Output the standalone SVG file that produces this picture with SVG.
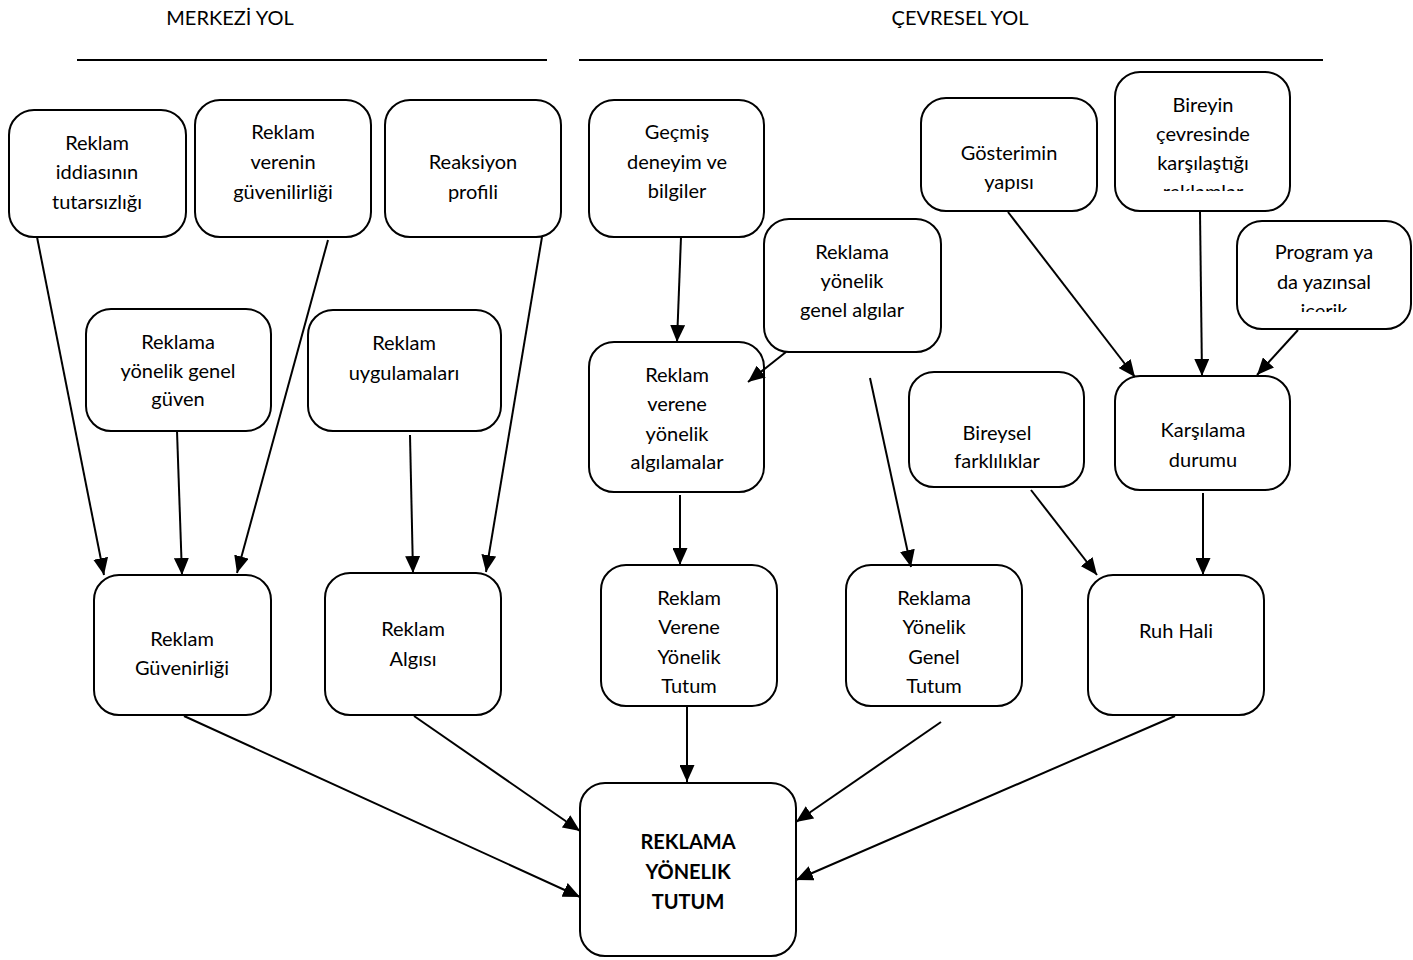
<svg xmlns="http://www.w3.org/2000/svg" width="1413" height="960" viewBox="0 0 1413 960">
<style>
.n rect{fill:#fff;stroke:#000;stroke-width:2}
text{font-family:Lato,"Open Sans",sans-serif;font-size:20px;fill:#000;text-anchor:middle}
.b{font-weight:bold}
.c line{stroke:#000;stroke-width:2;marker-end:url(#ah)}
.h line{stroke:#000;stroke-width:2}
</style>
<defs>
<marker id="ah" viewBox="0 0 10 10" refX="10" refY="5" markerWidth="17" markerHeight="15" markerUnits="userSpaceOnUse" orient="auto" preserveAspectRatio="none"><path d="M0,0 L10,5 L0,10 z" fill="#000"/></marker>
<clipPath id="cl14"><rect x="1115" y="72" width="176" height="119"/></clipPath>
<clipPath id="cl15"><rect x="1237" y="221" width="175" height="91"/></clipPath>
</defs>
<rect width="1413" height="960" fill="#fff"/>
<g class="h">
<text x="230" y="25">MERKEZİ YOL</text>
<text x="960" y="25">ÇEVRESEL YOL</text>
<line x1="77" y1="60" x2="547" y2="60"/>
<line x1="579" y1="60" x2="1323" y2="60"/>
</g>
<g id="n1" class="n"><rect x="9" y="110" width="177" height="127" rx="25"/><text x="97" y="150">Reklam</text><text x="97" y="179">iddiasının</text><text x="97" y="209">tutarsızlığı</text></g>
<g id="n2" class="n"><rect x="195" y="100" width="176" height="137" rx="25"/><text x="283" y="139">Reklam</text><text x="283" y="169">verenin</text><text x="283" y="199">güvenilirliği</text></g>
<g id="n3" class="n"><rect x="385" y="100" width="176" height="137" rx="25"/><text x="473" y="169">Reaksiyon</text><text x="473" y="199">profili</text></g>
<g id="n4" class="n"><rect x="86" y="309" width="185" height="122" rx="25"/><text x="178" y="349">Reklama</text><text x="178" y="378">yönelik genel</text><text x="178" y="406">güven</text></g>
<g id="n5" class="n"><rect x="308" y="310" width="193" height="121" rx="25"/><text x="404" y="350">Reklam</text><text x="404" y="380">uygulamaları</text></g>
<g id="n6" class="n"><rect x="94" y="575" width="177" height="140" rx="25"/><text x="182" y="646">Reklam</text><text x="182" y="675">Güvenirliği</text></g>
<g id="n7" class="n"><rect x="325" y="573" width="176" height="142" rx="25"/><text x="413" y="636">Reklam</text><text x="413" y="666">Algısı</text></g>
<g id="n8" class="n"><rect x="589" y="100" width="175" height="137" rx="25"/><text x="677" y="139">Geçmiş</text><text x="677" y="169">deneyim ve</text><text x="677" y="198">bilgiler</text></g>
<g id="n9" class="n"><rect x="764" y="219" width="177" height="133" rx="25"/><text x="852" y="259">Reklama</text><text x="852" y="288">yönelik</text><text x="852" y="317">genel algılar</text></g>
<g id="n10" class="n"><rect x="589" y="342" width="175" height="150" rx="25"/><text x="677" y="382">Reklam</text><text x="677" y="411">verene</text><text x="677" y="441">yönelik</text><text x="677" y="469">algılamalar</text></g>
<g id="n11" class="n"><rect x="601" y="565" width="176" height="141" rx="25"/><text x="689" y="605">Reklam</text><text x="689" y="634">Verene</text><text x="689" y="664">Yönelik</text><text x="689" y="693">Tutum</text></g>
<g id="n12" class="n"><rect x="846" y="565" width="176" height="141" rx="25"/><text x="934" y="605">Reklama</text><text x="934" y="634">Yönelik</text><text x="934" y="664">Genel</text><text x="934" y="693">Tutum</text></g>
<g id="n13" class="n"><rect x="921" y="98" width="176" height="113" rx="25"/><text x="1009" y="160">Gösterimin</text><text x="1009" y="189">yapısı</text></g>
<g id="n14" class="n"><rect x="1115" y="72" width="175" height="139" rx="25"/><g clip-path="url(#cl14)"><text x="1203" y="112">Bireyin</text><text x="1203" y="141">çevresinde</text><text x="1203" y="170">karşılaştığı</text><text x="1203" y="199">reklamlar</text></g></g>
<g id="n15" class="n"><rect x="1237" y="221" width="174" height="108" rx="25"/><g clip-path="url(#cl15)"><text x="1324" y="259">Program ya</text><text x="1324" y="289">da yazınsal</text><text x="1324" y="318">içerik</text></g></g>
<g id="n16" class="n"><rect x="909" y="372" width="175" height="115" rx="25"/><text x="997" y="440">Bireysel</text><text x="997" y="468">farklılıklar</text></g>
<g id="n17" class="n"><rect x="1115" y="376" width="175" height="114" rx="25"/><text x="1203" y="437">Karşılama</text><text x="1203" y="467">durumu</text></g>
<g id="n18" class="n"><rect x="1088" y="575" width="176" height="140" rx="25"/><text x="1176" y="638">Ruh Hali</text></g>
<g id="n19" class="n"><rect x="580" y="783" width="216" height="173" rx="25"/><text class="b" x="688" y="849">REKLAMA</text><text class="b" x="688" y="879">YÖNELIK</text><text class="b" x="688" y="909">TUTUM</text></g>
<g class="c">
<line x1="37" y1="237" x2="104" y2="575"/>
<line x1="328" y1="240" x2="237" y2="573"/>
<line x1="177" y1="431" x2="182" y2="575"/>
<line x1="410" y1="435" x2="413" y2="573"/>
<line x1="542" y1="237" x2="486" y2="572"/>
<line x1="681" y1="237" x2="677" y2="342"/>
<line x1="786" y1="352" x2="748" y2="382"/>
<line x1="680" y1="495" x2="680" y2="565"/>
<line x1="870" y1="378" x2="911" y2="567"/>
<line x1="1008" y1="212" x2="1135" y2="377"/>
<line x1="1200" y1="212" x2="1202" y2="376"/>
<line x1="1298" y1="330" x2="1257" y2="375"/>
<line x1="1031" y1="490" x2="1097" y2="575"/>
<line x1="1203" y1="493" x2="1203" y2="575"/>
<line x1="687" y1="706" x2="687" y2="782"/>
<line x1="184" y1="716" x2="580" y2="897"/>
<line x1="414" y1="716" x2="580" y2="831"/>
<line x1="941" y1="722" x2="796" y2="822"/>
<line x1="1175" y1="716" x2="796" y2="880"/>
</g>
</svg>
